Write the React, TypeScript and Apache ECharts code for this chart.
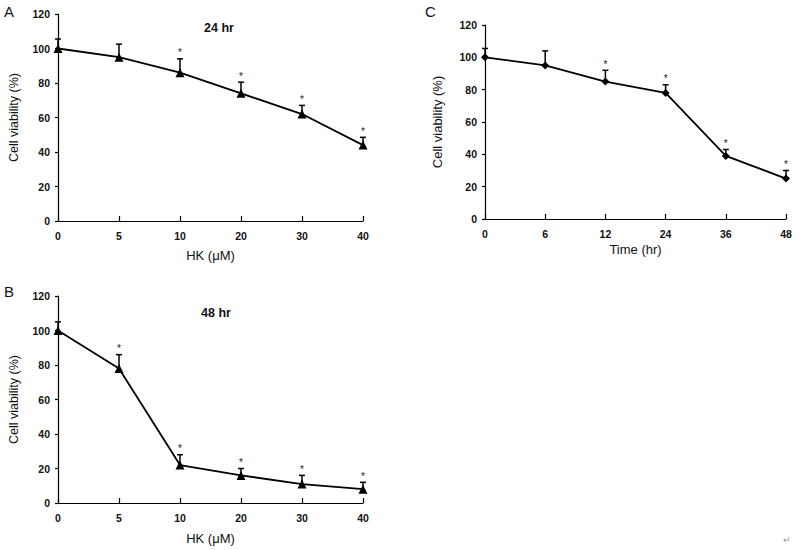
import React, { useEffect, useRef } from "react";
import * as echarts from "echarts";

// Panel A: 24 hr, HK concentration
const hkCategories = ["0", "5", "10", "20", "30", "40"];
const viabilityA = [100, 95, 86, 74, 62, 44];
const errorA = [5.5, 7.5, 8, 6.5, 5, 4.5];
const starA = [0, 0, 1, 1, 1, 1];

// Panel B: 48 hr, HK concentration
const viabilityB = [100, 78, 22, 16, 11, 8];
const errorB = [5, 8, 6, 4, 5, 4];
const starB = [0, 1, 1, 1, 1, 1];

// Panel C: time course
const timeCategories = ["0", "6", "12", "24", "36", "48"];
const viabilityC = [100, 95, 85, 78, 39, 25];
const errorC = [5.5, 9, 7, 5, 4, 5];
const starC = [0, 0, 1, 1, 1, 1];

const yTicks = { min: 0, max: 120, interval: 20 };

const FONT = "'Liberation Sans', Arial, Helvetica, sans-serif";
const INK = "#111";

function errData(vals: number[], errs: number[], stars: number[]) {
  return vals.map((v, i) => [i, v, errs[i], stars[i]]);
}

const renderErr = (params: any, api: any) => {
  const i = api.value(0);
  const v = api.value(1);
  const e = api.value(2);
  const s = api.value(3);
  const p0 = api.coord([i, v]);
  const p1 = api.coord([i, v + e]);
  const children: any[] = [
    {
      type: "line",
      shape: { x1: p0[0], y1: p0[1], x2: p1[0], y2: p1[1] },
      style: { stroke: "#000", lineWidth: 1.5 },
    },
    {
      type: "line",
      shape: { x1: p1[0] - 3, y1: p1[1], x2: p1[0] + 3, y2: p1[1] },
      style: { stroke: "#000", lineWidth: 1.5 },
    },
  ];
  if (s) {
    children.push({
      type: "text",
      x: p1[0],
      y: p1[1] - 1,
      style: {
        text: "*",
        fill: "#222",
        font: `10px ${FONT}`,
        align: "center",
        verticalAlign: "bottom",
      },
    });
  }
  return { type: "group", children };
};

function xAxisCfg(gridIndex: number, data: string[], name: string, nameGap: number) {
  return {
    type: "category",
    gridIndex,
    data,
    boundaryGap: false,
    name,
    nameLocation: "middle",
    nameGap,
    nameTextStyle: { fontFamily: FONT, fontSize: 13, color: INK },
    axisLine: { lineStyle: { color: "#000", width: 1.2 } },
    axisTick: { show: true, inside: true, length: 5, lineStyle: { color: "#000", width: 1.2 } },
    axisLabel: { fontFamily: FONT, fontSize: 10.5, fontWeight: "bold", color: INK, margin: 9 },
    splitLine: { show: false },
  };
}

function yAxisCfg(gridIndex: number, nameGap: number, fontSize: number) {
  return {
    type: "value",
    gridIndex,
    ...yTicks,
    name: "Cell viability (%)",
    nameLocation: "middle",
    nameGap,
    nameRotate: 90,
    nameTextStyle: { fontFamily: FONT, fontSize, color: INK },
    axisLine: { show: true, lineStyle: { color: "#000", width: 1.2 } },
    axisTick: { show: true, length: 3, lineStyle: { color: "#000", width: 1.2 } },
    axisLabel: { fontFamily: FONT, fontSize: 10.5, fontWeight: "bold", color: INK, margin: 8 },
    splitLine: { show: false },
  };
}

function lineSeries(idx: number, data: number[], symbol: string, symbolSize: number) {
  return {
    type: "line",
    xAxisIndex: idx,
    yAxisIndex: idx,
    data,
    symbol,
    symbolSize,
    itemStyle: { color: "#000" },
    lineStyle: { color: "#000", width: 1.8 },
    z: 3,
  };
}

function errSeries(idx: number, vals: number[], errs: number[], stars: number[]) {
  return {
    type: "custom",
    xAxisIndex: idx,
    yAxisIndex: idx,
    renderItem: renderErr,
    encode: { x: 0, y: 1 },
    data: errData(vals, errs, stars),
    z: 2,
  };
}

function txt(x: number, y: number, text: string, size: number, weight = "normal", align = "left") {
  return {
    type: "text",
    x,
    y,
    style: {
      text,
      fill: INK,
      font: `${weight} ${size}px ${FONT}`,
      align,
      verticalAlign: "middle",
    },
  };
}

export default function App() {
  const ref = useRef<HTMLDivElement>(null);
  useEffect(() => {
    if (!ref.current) return;
    const chart = echarts.init(ref.current, undefined, { renderer: "svg" });
    chart.setOption({
      animation: false,
      backgroundColor: "#fff",
      grid: [
        { left: 58, top: 14, width: 305, height: 207 },
        { left: 58, top: 296, width: 305, height: 207 },
        { left: 485, top: 25, width: 301, height: 194 },
      ],
      xAxis: [
        xAxisCfg(0, hkCategories, "HK (μM)", 28),
        xAxisCfg(1, hkCategories, "HK (μM)", 29),
        xAxisCfg(2, timeCategories, "Time (hr)", 24),
      ],
      yAxis: [yAxisCfg(0, 38, 12.5), yAxisCfg(1, 38, 12.5), yAxisCfg(2, 41, 13)],
      series: [
        errSeries(0, viabilityA, errorA, starA),
        lineSeries(0, viabilityA, "triangle", 9),
        errSeries(1, viabilityB, errorB, starB),
        lineSeries(1, viabilityB, "triangle", 9),
        errSeries(2, viabilityC, errorC, starC),
        lineSeries(2, viabilityC, "diamond", 8),
      ],
      graphic: [
        txt(4, 11, "A", 15),
        txt(4, 291, "B", 15),
        txt(425, 11, "C", 15),
        txt(219, 28, "24 hr", 12.5, "bold", "center"),
        txt(216, 313, "48 hr", 12.5, "bold", "center"),
        {
          type: "text",
          x: 787,
          y: 540,
          style: { text: "↵", fill: "#999", font: `9px ${FONT}`, align: "center", verticalAlign: "middle" },
        },
      ],
    });
    return () => chart.dispose();
  }, []);
  return (
    <div
      ref={ref}
      style={{ position: "absolute", left: 0, top: 0, width: 800, height: 550, background: "#fff" }}
    />
  );
}
